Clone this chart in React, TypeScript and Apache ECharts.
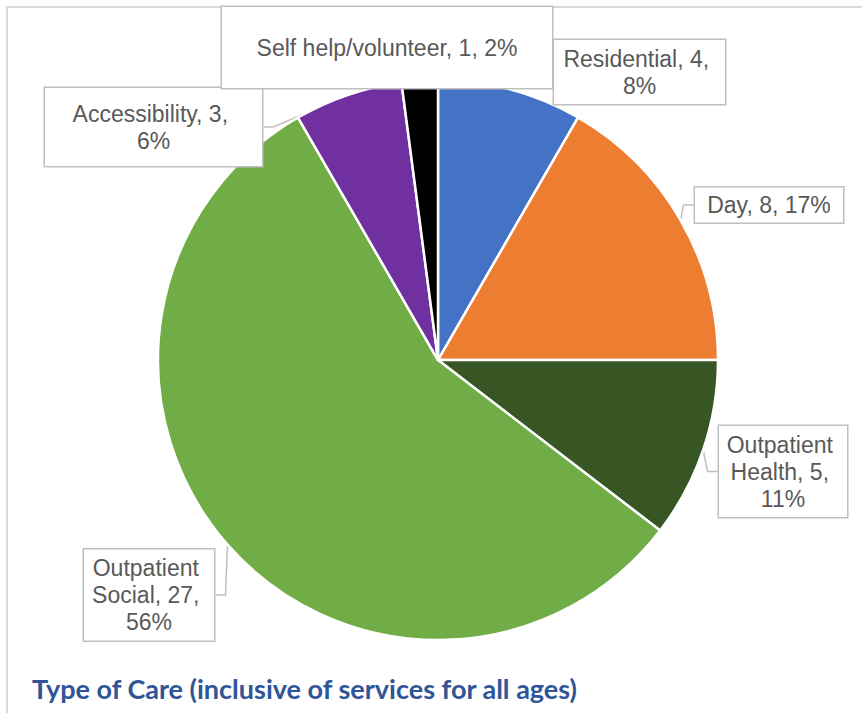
import React, { useEffect, useRef } from "react";
import * as echarts from "echarts";

const categories = [
  "Residential",
  "Day",
  "Outpatient Health",
  "Outpatient Social",
  "Accessibility",
  "Self help/volunteer",
];
const counts = [4, 8, 5, 27, 3, 1];
const colors = ["#4472C4", "#ED7D31", "#375623", "#70AD47", "#7030A0", "#000000"];
const titleText = "Type of Care (inclusive of services for all ages)";

// label box centres (layout) and box sizing (style)
const labelCenters = [
  [639.5, 72],
  [769, 205],
  [783, 471.5],
  [149, 595],
  [153.5, 127],
  [387, 47.5],
];
const labelWidths = [154, 130, 114, 118, 171, 272];
const labelPaddings = [
  [5, 8.5],
  [4, 9],
  [5, 7],
  [5, 6],
  [12, 23],
  [27, 29],
];

export default function App() {
  const ref = useRef<HTMLDivElement>(null);
  useEffect(() => {
    document.body.style.margin = "0";
    const chart = echarts.init(ref.current!, null, { renderer: "svg" });
    const data = categories.map((name, i) => ({
      name,
      value: counts[i],
      itemStyle: { color: colors[i] },
      label: { width: labelWidths[i], padding: labelPaddings[i] },
    }));
    chart.setOption({
      animation: false,
      backgroundColor: "#ffffff",
      graphic: [
        {
          type: "rect",
          z: -10,
          shape: { x: 7, y: 7, width: 900, height: 760 },
          style: { fill: "none", stroke: "#d9d9d9", lineWidth: 2 },
        },
      ],
      title: {
        text: titleText,
        left: 27,
        top: 670,
        textStyle: {
          fontFamily: "Lato",
          fontWeight: "bold",
          fontSize: 27,
          color: "#2F5597",
        },
      },
      series: [
        {
          type: "pie",
          center: [438, 360],
          radius: 280,
          startAngle: 90,
          clockwise: true,
          avoidLabelOverlap: false,
          percentPrecision: 0,
          data,
          itemStyle: { borderColor: "#ffffff", borderWidth: 2.5 },
          label: {
            show: true,
            position: "outside",
            formatter: "{b}, {c}, {d}%",
            fontFamily: "Liberation Sans, Arial, sans-serif",
            fontSize: 23,
            lineHeight: 27,
            color: "#595959",
            backgroundColor: "#ffffff",
            borderColor: "#bfbfbf",
            borderWidth: 1.5,
            overflow: "break",
            align: "center",
          },
          labelLine: {
            show: true,
            length: 12,
            length2: 10,
            lineStyle: { color: "#bfbfbf", width: 1.5 },
          },
          labelLayout: (params: any) => {
            const c = labelCenters[params.dataIndex];
            return { x: c[0], y: c[1], align: "center", verticalAlign: "middle" };
          },
          emphasis: { disabled: true },
        },
      ],
    });
    return () => chart.dispose();
  }, []);
  return <div ref={ref} style={{ width: 862, height: 713 }} />;
}
